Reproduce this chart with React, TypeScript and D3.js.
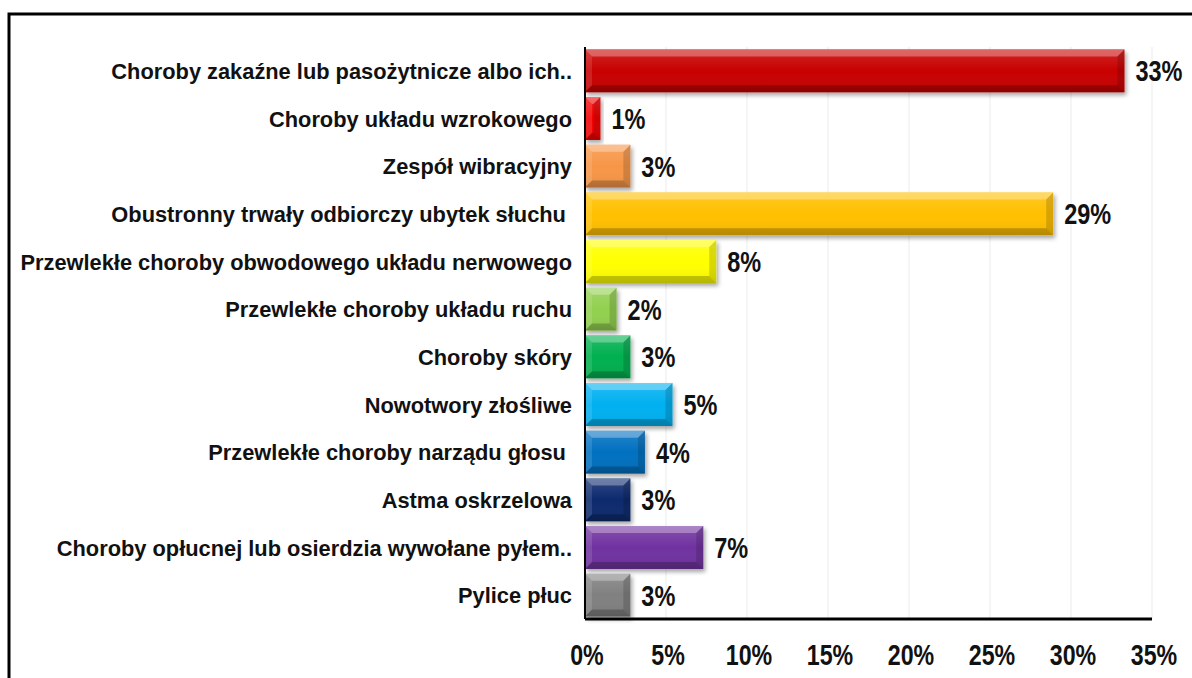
import React from "react";
import * as d3 from "d3";

const categories = [
  "Choroby zakaźne lub pasożytnicze albo ich..",
  "Choroby układu wzrokowego",
  "Zespół wibracyjny",
  "Obustronny trwały odbiorczy ubytek słuchu ",
  "Przewlekłe choroby obwodowego układu nerwowego",
  "Przewlekłe choroby układu ruchu",
  "Choroby skóry",
  "Nowotwory złośliwe",
  "Przewlekłe choroby narządu głosu ",
  "Astma oskrzelowa",
  "Choroby opłucnej lub osierdzia wywołane pyłem..",
  "Pylice płuc",
];
const values = [33.3, 0.95, 2.8, 28.9, 8.1, 1.95, 2.8, 5.4, 3.7, 2.8, 7.3, 2.8];
const colors = [
  "#C80000", "#F20000", "#F79646", "#FFC000", "#FFFF00", "#92D050",
  "#00B050", "#00B0F0", "#0070C0", "#0A2A6E", "#7030A0", "#808080",
];
const ticks = [0, 5, 10, 15, 20, 25, 30, 35];

const W = 1192, H = 678;
const x0 = 585, x1 = 1152, yTop = 47, yBot = 619;

function sx(cx: number, s: number) {
  return `translate(${cx},0) scale(${s},1) translate(${-cx},0)`;
}

export default function App() {
  const x = d3.scaleLinear().domain([0, 35]).range([x0, x1]);
  const y = d3.scaleBand<number>().domain(d3.range(categories.length)).range([yTop, yBot]).paddingInner(0.1).paddingOuter(0.05);
  const font = "'Liberation Sans', Arial, sans-serif";
  const catSize = 22.5, valSize = 29;
  return (
    <svg width={W} height={H} style={{ position: "absolute", left: 0, top: 0, background: "#fff" }}>
      <defs>
        <filter id="sh" x="-10%" y="-20%" width="130%" height="160%">
          <feDropShadow dx="2" dy="3" stdDeviation="2" floodColor="#000" floodOpacity="0.35" />
        </filter>
        <linearGradient id="gl" x1="0" y1="0" x2="0" y2="1">
          <stop offset="0" stopColor="#fff" stopOpacity="0.15" />
          <stop offset="0.5" stopColor="#fff" stopOpacity="0" />
          <stop offset="1" stopColor="#000" stopOpacity="0.08" />
        </linearGradient>
      </defs>
      <path d={`M9,${H} V14 H${W}`} fill="none" stroke="#000" strokeWidth={3} />
      {ticks.slice(1).map((t) => (
        <line key={t} x1={x(t)} x2={x(t)} y1={yTop} y2={yBot} stroke="#ebebeb" strokeWidth={1} />
      ))}
      {values.map((v, i) => {
        const bx0 = x(0), bx1 = x(v);
        const by0 = y(i)!, by1 = by0 + y.bandwidth();
        const cy = (by0 + by1) / 2;
        const b = Math.min(7, (bx1 - bx0) / 2);
        const pts = (arr: number[][]) => arr.map((p) => p.join(",")).join(" ");
        const vx = bx1 + 11;
        const lx = x0 - 13;
        return (
          <g key={i}>
            <rect x={bx0} y={by0} width={bx1 - bx0} height={by1 - by0} fill={colors[i]} filter="url(#sh)" />
            <rect x={bx0} y={by0} width={bx1 - bx0} height={by1 - by0} fill="url(#gl)" />
            <polygon points={pts([[bx0, by0], [bx1, by0], [bx1 - b, by0 + b], [bx0 + b, by0 + b]])} fill="#fff" fillOpacity={0.3} />
            <polygon points={pts([[bx0, by1], [bx1, by1], [bx1 - b, by1 - b], [bx0 + b, by1 - b]])} fill="#000" fillOpacity={0.22} />
            <polygon points={pts([[bx0, by0], [bx0 + b, by0 + b], [bx0 + b, by1 - b], [bx0, by1]])} fill="#fff" fillOpacity={0.12} />
            <polygon points={pts([[bx1, by0], [bx1 - b, by0 + b], [bx1 - b, by1 - b], [bx1, by1]])} fill="#000" fillOpacity={0.15} />
            <text x={vx} y={cy + valSize * 0.36} fontFamily={font} fontWeight="bold" fontSize={valSize} fill="#111" transform={sx(vx, 0.81)}>
              {Math.round(v) + "%"}
            </text>
            <text x={lx} y={cy + catSize * 0.36} textAnchor="end" fontFamily={font} fontWeight="bold" fontSize={catSize} fill="#111" xmlSpace="preserve" style={{ whiteSpace: "pre" }} transform={sx(lx, 0.97)}>
              {categories[i]}
            </text>
          </g>
        );
      })}
      <line x1={x0} x2={x0} y1={yTop} y2={yBot} stroke="#000" strokeWidth={2} />
      <line x1={x0} x2={x1} y1={yBot} y2={yBot} stroke="#000" strokeWidth={3} />
      {ticks.map((t) => (
        <text key={t} x={x(t) + 2} y={655 + valSize * 0.36} textAnchor="middle" fontFamily={font} fontWeight="bold" fontSize={valSize} fill="#111" transform={sx(x(t) + 2, 0.8)}>
          {t + "%"}
        </text>
      ))}
    </svg>
  );
}
